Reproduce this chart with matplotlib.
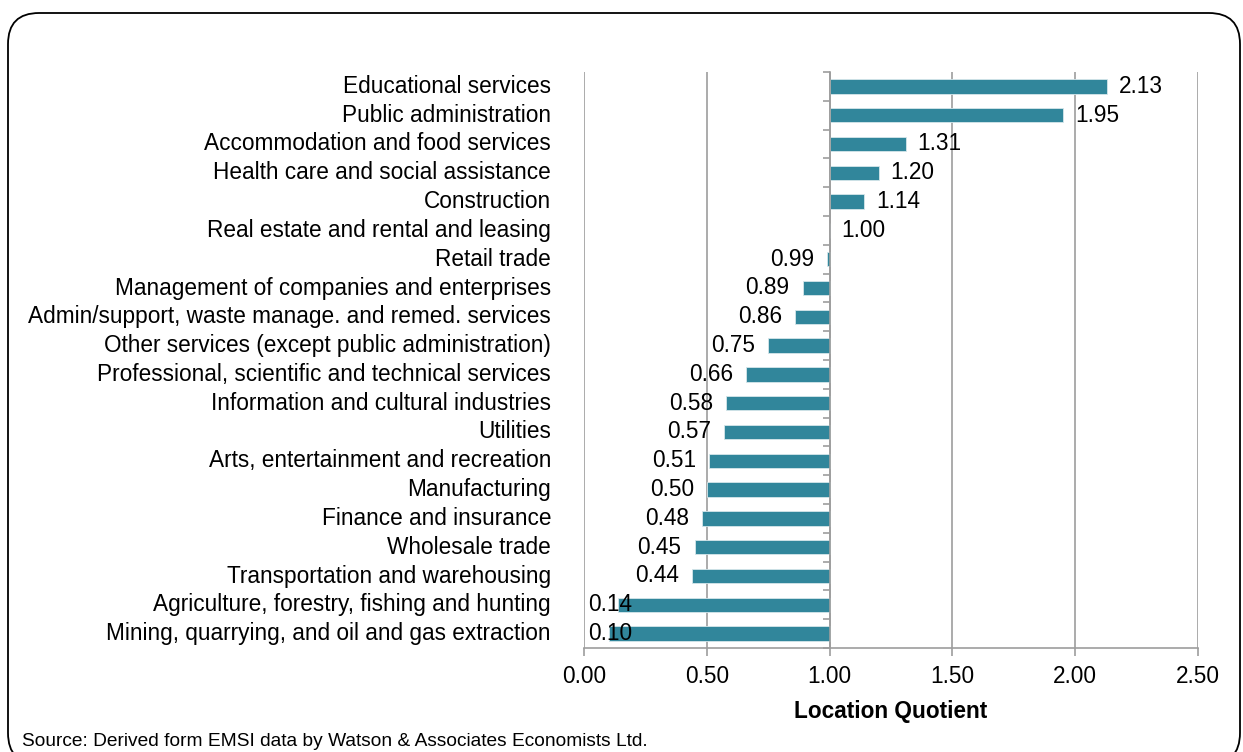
import matplotlib.pyplot as plt
from matplotlib.patches import FancyBboxPatch

plt.rcParams['font.family'] = ['Liberation Sans', 'DejaVu Sans']

industries = [
    'Educational services',
    'Public administration',
    'Accommodation and food services',
    'Health care and social assistance',
    'Construction',
    'Real estate and rental and leasing',
    'Retail trade',
    'Management of companies and enterprises',
    'Admin/support, waste manage. and remed. services',
    'Other services (except public administration)',
    'Professional, scientific and technical services',
    'Information and cultural industries',
    'Utilities',
    'Arts, entertainment and recreation',
    'Manufacturing',
    'Finance and insurance',
    'Wholesale trade',
    'Transportation and warehousing',
    'Agriculture, forestry, fishing and hunting',
    'Mining, quarrying, and oil and gas extraction',
]
lq = [2.13, 1.95, 1.31, 1.20, 1.14, 1.00, 0.99, 0.89, 0.86, 0.75,
      0.66, 0.58, 0.57, 0.51, 0.50, 0.48, 0.45, 0.44, 0.14, 0.10]
x_ticks = [0.0, 0.5, 1.0, 1.5, 2.0, 2.5]

bar_color = '#31869b'
grid_color = '#9d9d9d'
fs = 16.3

fig = plt.figure(figsize=(12.43, 7.52), dpi=100)
ax = fig.add_axes([584 / 1243, 1 - 648 / 752, 614 / 1243, 576 / 752])

pos = list(range(len(industries)))
# bars grow out from the LQ = 1 baseline
ax.barh(pos, [v - 1 for v in lq], left=1, height=0.5, color=bar_color,
        edgecolor='#d6e6ea', linewidth=0.6, zorder=3)

ax.set_xlim(0, 2.5)
ax.set_ylim(len(industries) - 0.5, -0.5)
ax.set_xticks(x_ticks)
ax.set_xticklabels([f'{t:.2f}' for t in x_ticks], fontsize=fs)
ax.set_yticks([p - 0.5 for p in pos] + [len(industries) - 0.5])
ax.set_yticklabels([])
ax.grid(axis='x', color=grid_color, linewidth=1.2, zorder=0)

for side in ['top', 'right']:
    ax.spines[side].set_visible(False)
ax.spines['left'].set_position(('data', 1.0))
ax.spines['left'].set_color(grid_color)
ax.spines['left'].set_linewidth(1.2)
ax.spines['left'].set_zorder(4)
ax.spines['bottom'].set_color(grid_color)
ax.spines['bottom'].set_linewidth(1.2)
ax.tick_params(axis='x', colors=grid_color, length=6, width=1.2,
               labelcolor='black', pad=6)
ax.tick_params(axis='y', colors=grid_color, length=5, width=1.2)

ax.set_xlabel('Location Quotient', fontsize=fs, fontweight='bold', labelpad=9)

# category names sit left of the plot area, not at the spine
for p, name in zip(pos, industries):
    ax.annotate(name, xy=(0, p), xycoords=('axes fraction', 'data'),
                xytext=(-33, 0), textcoords='offset pixels',
                ha='right', va='center', fontsize=fs)

# value labels at the outer end of each bar
for p, v in zip(pos, lq):
    if v >= 1:
        ax.annotate(f'{v:.2f}', xy=(v, p), xytext=(12, 0),
                    textcoords='offset pixels', ha='left', va='center',
                    fontsize=fs, zorder=5)
    elif v > 0.25:
        ax.annotate(f'{v:.2f}', xy=(v, p), xytext=(-13, 0),
                    textcoords='offset pixels', ha='right', va='center',
                    fontsize=fs, zorder=5)
    else:
        ax.annotate(f'{v:.2f}', xy=(0, p), xytext=(4, 0),
                    textcoords='offset pixels', ha='left', va='center',
                    fontsize=fs, zorder=5)

fig.text(22 / 1243, 1 - 741 / 752,
         'Source: Derived form EMSI data by Watson & Associates Economists Ltd.',
         fontsize=13.8, va='center', ha='left')

frame = FancyBboxPatch((8 / 1243, -12 / 752), 1232 / 1243, 751 / 752,
                       boxstyle='round,pad=0,rounding_size=0.025',
                       transform=fig.transFigure, fill=False,
                       edgecolor='black', linewidth=1.3,
                       mutation_aspect=1243 / 752)
fig.patches.append(frame)

fig.savefig('out.png', dpi=100)
